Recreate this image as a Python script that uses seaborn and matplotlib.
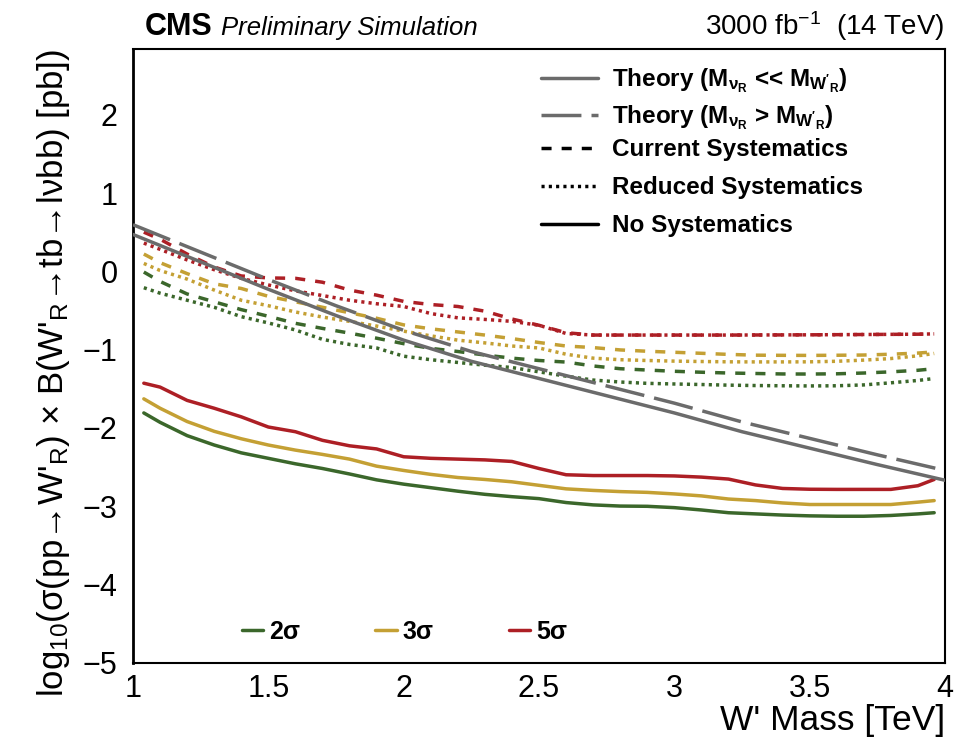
import matplotlib
matplotlib.use("Agg")
import matplotlib.pyplot as plt
from matplotlib.lines import Line2D
import pandas as pd
import seaborn as sns

# ---------------- data ----------------
mass = [1.04, 1.1, 1.2, 1.3, 1.4, 1.5, 1.6, 1.7, 1.8, 1.9, 2.0, 2.1, 2.2, 2.3, 2.4,
        2.5, 2.6, 2.7, 2.8, 2.9, 3.0, 3.1, 3.2, 3.3, 3.4, 3.5, 3.6, 3.7, 3.8, 3.9, 3.96]

# log10 cross-section x BR reach, no systematics
nosys_2s = [-1.81, -1.93, -2.10, -2.22, -2.32, -2.39, -2.46, -2.52, -2.59, -2.665, -2.72,
            -2.765, -2.81, -2.85, -2.88, -2.905, -2.955, -2.985, -3.0, -3.003, -3.02, -3.05,
            -3.085, -3.10, -3.115, -3.125, -3.13, -3.13, -3.12, -3.10, -3.085]
nosys_3s = [-1.63, -1.75, -1.92, -2.045, -2.14, -2.22, -2.285, -2.34, -2.40, -2.49, -2.545,
            -2.595, -2.635, -2.66, -2.69, -2.735, -2.78, -2.80, -2.815, -2.825, -2.845, -2.87,
            -2.91, -2.93, -2.96, -2.98, -2.98, -2.98, -2.98, -2.95, -2.93]
nosys_5s = [-1.43, -1.48, -1.65, -1.75, -1.86, -1.99, -2.05, -2.16, -2.23, -2.27, -2.37,
            -2.39, -2.40, -2.41, -2.43, -2.52, -2.60, -2.61, -2.61, -2.61, -2.615, -2.63,
            -2.655, -2.73, -2.775, -2.785, -2.787, -2.787, -2.787, -2.74, -2.66]

# current systematics
cur_2s = [-0.01, -0.13, -0.29, -0.39, -0.49, -0.575, -0.665, -0.73, -0.79, -0.855, -0.925,
          -0.985, -1.025, -1.07, -1.11, -1.14, -1.16, -1.21, -1.245, -1.262, -1.278, -1.29,
          -1.30, -1.306, -1.312, -1.313, -1.31, -1.30, -1.285, -1.265, -1.245]
cur_3s = [0.22, 0.11, -0.03, -0.16, -0.22, -0.32, -0.39, -0.46, -0.53, -0.60, -0.685,
          -0.735, -0.775, -0.815, -0.86, -0.91, -0.955, -0.975, -1.005, -1.022, -1.035, -1.048,
          -1.062, -1.072, -1.074, -1.075, -1.073, -1.07, -1.06, -1.045, -1.03]
cur_5s = [0.50, 0.41, 0.22, 0.055, -0.06, -0.085, -0.09, -0.14, -0.24, -0.305, -0.385,
          -0.425, -0.45, -0.51, -0.61, -0.69, -0.785, -0.815, -0.815, -0.815, -0.815, -0.815,
          -0.815, -0.814, -0.813, -0.812, -0.81, -0.808, -0.806, -0.804, -0.80]

# reduced systematics
red_2s = [-0.21, -0.28, -0.37, -0.46, -0.58, -0.66, -0.75, -0.87, -0.935, -0.98, -1.085,
          -1.13, -1.165, -1.20, -1.23, -1.285, -1.34, -1.39, -1.415, -1.432, -1.44, -1.447,
          -1.455, -1.46, -1.463, -1.465, -1.463, -1.452, -1.425, -1.395, -1.37]
red_3s = [0.10, 0.01, -0.10, -0.24, -0.37, -0.44, -0.52, -0.585, -0.64, -0.70, -0.765,
          -0.825, -0.88, -0.915, -0.955, -0.98, -1.06, -1.11, -1.13, -1.14, -1.148, -1.153,
          -1.157, -1.158, -1.158, -1.157, -1.15, -1.135, -1.115, -1.08, -1.05]
red_5s = [0.36, 0.28, 0.145, 0.02, -0.09, -0.175, -0.25, -0.31, -0.37, -0.415, -0.45,
          -0.54, -0.595, -0.615, -0.64, -0.69, -0.795, -0.815, -0.815, -0.815, -0.815, -0.815,
          -0.815, -0.814, -0.813, -0.812, -0.81, -0.808, -0.806, -0.804, -0.80]

# theory predictions
theory_mass = [1.0, 1.25, 1.5, 1.75, 2.0, 2.25, 2.5, 2.75, 3.0, 3.25, 3.5, 3.75, 4.0]
theory_light_nu = [0.47, 0.12, -0.23, -0.565, -0.88, -1.15, -1.37, -1.59, -1.81, -2.05,
                   -2.26, -2.47, -2.67]
theory_heavy_nu = [0.595, 0.245, -0.105, -0.44, -0.755, -1.025, -1.245, -1.465, -1.685,
                   -1.925, -2.135, -2.345, -2.545]

x_ticks = [1, 1.5, 2, 2.5, 3, 3.5, 4]
x_tick_labels = ["1", "1.5", "2", "2.5", "3", "3.5", "4"]
y_ticks = [-5, -4, -3, -2, -1, 0, 1, 2]

significances = ["2σ", "3σ", "5σ"]
systematics = ["Current Systematics", "Reduced Systematics", "No Systematics"]

# ---------------- style ----------------
sns.set_theme(style="white")
plt.rcParams["font.family"] = ["Liberation Sans", "DejaVu Sans"]
plt.rcParams["mathtext.fontset"] = "custom"
plt.rcParams["mathtext.rm"] = "Liberation Sans"
plt.rcParams["mathtext.it"] = "Liberation Sans:italic"
plt.rcParams["mathtext.bf"] = "Liberation Sans:bold"
plt.rcParams["mathtext.sf"] = "Liberation Sans"
plt.rcParams["axes.unicode_minus"] = True
for key in ("text.color", "axes.labelcolor", "xtick.color", "ytick.color",
            "axes.edgecolor"):
    plt.rcParams[key] = "black"

GREEN = "#3b672b"
GOLD = "#c4a034"
RED = "#ad1f25"
GRAY = "#6b6b6b"
LW = 2.5
DASH = (2.9, 2.9)
DOT = (0.9, 1.2)
LONGDASH = (11.5, 2.9)

# ---------------- tidy frames ----------------
series = {
    ("2σ", "No Systematics"): nosys_2s,
    ("3σ", "No Systematics"): nosys_3s,
    ("5σ", "No Systematics"): nosys_5s,
    ("2σ", "Current Systematics"): cur_2s,
    ("3σ", "Current Systematics"): cur_3s,
    ("5σ", "Current Systematics"): cur_5s,
    ("2σ", "Reduced Systematics"): red_2s,
    ("3σ", "Reduced Systematics"): red_3s,
    ("5σ", "Reduced Systematics"): red_5s,
}
frames = []
for (sig, syst), vals in series.items():
    frames.append(pd.DataFrame({"mass": mass, "limit": vals, "sig": sig, "syst": syst}))
reach = pd.concat(frames, ignore_index=True)

theory = pd.concat([
    pd.DataFrame({"mass": theory_mass, "xsec": theory_light_nu, "model": "light"}),
    pd.DataFrame({"mass": theory_mass, "xsec": theory_heavy_nu, "model": "heavy"}),
], ignore_index=True)

# ---------------- figure ----------------
fig = plt.figure(figsize=(9.57, 7.41), dpi=100)
ax = fig.add_axes([133 / 957, 1 - 662.6 / 741, 812 / 957, (662.6 - 49) / 741])

sns.lineplot(data=reach, x="mass", y="limit", hue="sig", style="syst",
             hue_order=significances, style_order=systematics,
             palette={"2σ": GREEN, "3σ": GOLD, "5σ": RED},
             dashes={"Current Systematics": DASH, "Reduced Systematics": DOT,
                     "No Systematics": ""},
             estimator=None, sort=False, linewidth=LW, legend=False, ax=ax)

sns.lineplot(data=theory, x="mass", y="xsec", hue="model", style="model",
             palette={"light": GRAY, "heavy": GRAY},
             dashes={"light": "", "heavy": LONGDASH},
             estimator=None, sort=False, linewidth=LW, legend=False, ax=ax, zorder=5)

ax.set_xlim(1, 4)
ax.set_ylim(-5, 2.84)
ax.set_xticks(x_ticks)
ax.set_xticklabels(x_tick_labels)
ax.set_yticks(y_ticks)
ax.xaxis.set_minor_locator(matplotlib.ticker.MultipleLocator(0.1))
ax.yaxis.set_minor_locator(matplotlib.ticker.MultipleLocator(0.2))
ax.tick_params(axis="both", which="both", direction="in", top=False, right=False,
               colors="black", width=1.4)
ax.tick_params(axis="x", which="major", length=12, pad=8, labelsize=22)
ax.tick_params(axis="x", which="minor", length=6.5)
ax.tick_params(axis="y", which="major", length=19.5, pad=11, labelsize=22)
ax.tick_params(axis="y", which="minor", length=10)
for side in ["left", "right", "top", "bottom"]:
    ax.spines[side].set_color("black")
    ax.spines[side].set_linewidth(1.5)
ax.spines["left"].set_linewidth(2.0)

ax.set_xlabel("W' Mass [TeV]", fontsize=25.5, loc="right", labelpad=0)
ax.set_ylabel(r"log$_{10}$(σ(pp→W$'_{\rm R}$) × B(W$'_{\rm R}$→tb→lνbb) [pb])",
              fontsize=25, loc="top", labelpad=8)

# systematics / theory key, one row per entry
h_sys = [
    Line2D([], [], color=GRAY, lw=LW),
    Line2D([], [], color=GRAY, lw=LW, dashes=LONGDASH),
    Line2D([], [], color="black", lw=LW, dashes=DASH),
    Line2D([], [], color="black", lw=LW, dashes=DOT),
    Line2D([], [], color="black", lw=LW),
]
l_sys = [
    r"Theory (M$_{\mathbf{\nu}_{\mathbf{R}}}$ << M$_{\mathbf{W'_{R}}}$)",
    r"Theory (M$_{\mathbf{\nu}_{\mathbf{R}}}$ > M$_{\mathbf{W'_{R}}}$)",
    "Current Systematics",
    "Reduced Systematics",
    "No Systematics",
]
row_y = [0.9485, 0.888, 0.8354, 0.7735, 0.7116]
for handle, label, yy in zip(h_sys, l_sys, row_y):
    leg = ax.legend([handle], [label], loc="center left", bbox_to_anchor=(0.502, yy),
                    frameon=False, prop={"weight": "bold", "size": 17.5},
                    handlelength=2.35, handletextpad=0.6,
                    borderpad=0, borderaxespad=0)
    ax.add_artist(leg)

# significance key
h_sig = [Line2D([], [], color=c, lw=LW) for c in (GREEN, GOLD, RED)]
ax.legend(h_sig, significances, loc="center left", bbox_to_anchor=(0.134, 0.05),
          ncol=3, frameon=False, prop={"weight": "bold", "size": 18},
          handlelength=0.85, handletextpad=0.25, columnspacing=3.0,
          borderpad=0, borderaxespad=0)

# header
fig.text(145 / 957, 1 - 35 / 741, "CMS", fontsize=22, fontweight="bold", va="baseline")
fig.text(221 / 957, 1 - 35 / 741, "Preliminary Simulation", fontsize=18.5,
         style="italic", va="baseline")
fig.text(945 / 957, 1 - 35 / 741, r"3000 fb$^{-1}$  (14 TeV)", fontsize=20,
         ha="right", va="baseline")

fig.savefig("out.png", dpi=100, facecolor="white")
